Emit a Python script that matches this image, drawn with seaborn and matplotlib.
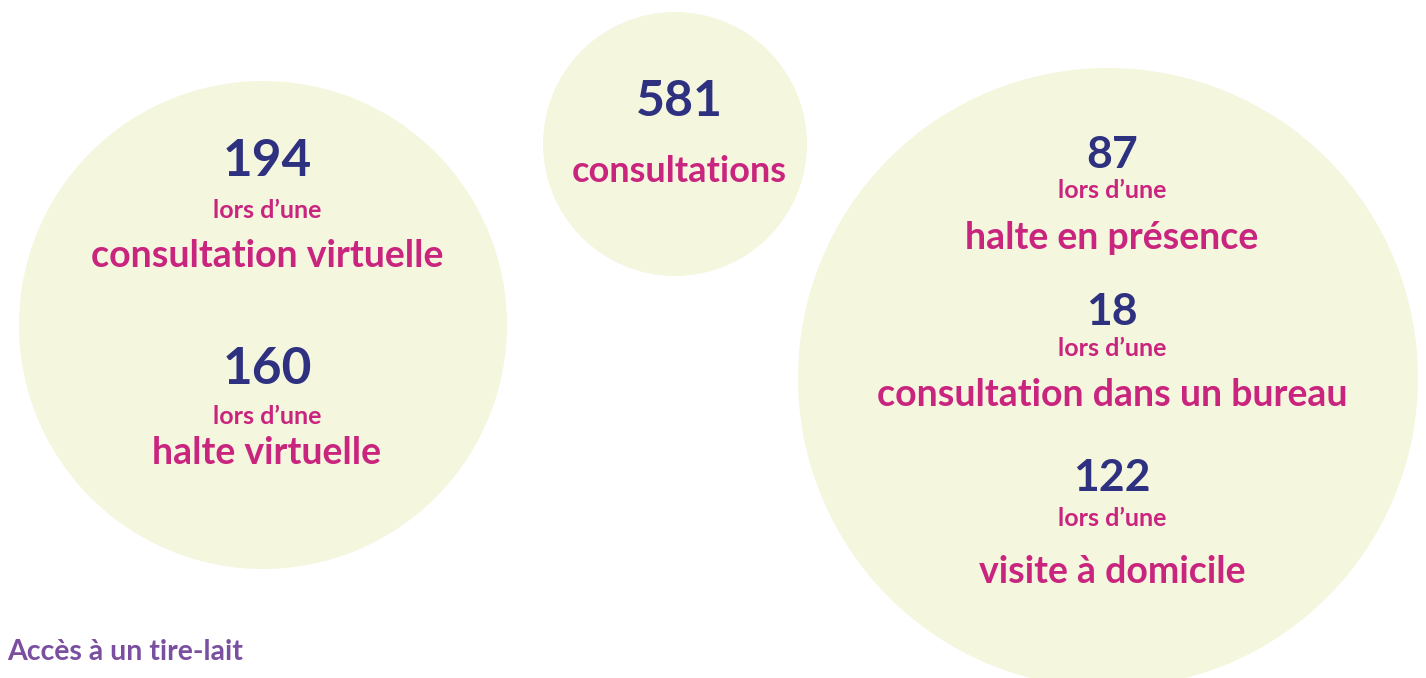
import seaborn as sns
import matplotlib.pyplot as plt
from matplotlib.patches import Circle

# Données
total = 581
total_label = "consultations"
modes = ["consultation virtuelle", "halte virtuelle",
         "halte en présence", "consultation dans un bureau", "visite à domicile"]
counts = [194, 160, 87, 18, 122]
groupe = [0, 0, 1, 1, 1]   # 0 = bulle gauche, 1 = bulle droite
sous_titre = "lors d’une"
titre_bas = "Accès à un tire-lait"

navy = "#2E3080"
magenta = "#C9247E"
purple = "#7B4FA0"
bulle = "#F4F6DE"

sns.set_theme(style="white")
plt.rcParams['font.family'] = ['Lato', 'DejaVu Sans']

fig = plt.figure(figsize=(14.26, 6.78), dpi=100)
ax = fig.add_axes([0, 0, 1, 1])
ax.set_xlim(0, 1426)
ax.set_ylim(678, 0)
ax.set_aspect('equal')
ax.axis('off')

# bulles (centre x, centre y, rayon)
for cx, cy, r in [(263, 325, 244), (675, 144, 132), (1108, 378, 310)]:
    ax.add_patch(Circle((cx, cy), r, color=bulle, lw=0, zorder=0))

# bulle du centre
ax.text(679, 102, str(total), color=navy, fontsize=36, fontweight='bold', ha='center', va='center')
ax.text(679, 172, total_label, color=magenta, fontsize=26, fontweight='bold', ha='center', va='center')

# positions verticales du texte : (nombre, "lors d'une", libellé)
ys = [(162, 210, 256), (370, 417, 453), (155, 190, 238), (312, 349, 395), (478, 518, 572)]
xs = [267, 1112]
tailles_nb = [37, 37, 32, 32, 32]
for n, lab, g, (y1, y2, y3), fs in zip(counts, modes, groupe, ys, tailles_nb):
    x = xs[g]
    ax.text(x, y1, str(n), color=navy, fontsize=fs, fontweight='bold', ha='center', va='center')
    ax.text(x, y2, sous_titre, color=magenta, fontsize=18, fontweight='bold', ha='center', va='center')
    ax.text(x, y3, lab, color=magenta, fontsize=27, fontweight='bold', ha='center', va='center')

ax.text(7, 652, titre_bas, color=purple, fontsize=20.5, fontweight='bold', ha='left', va='center')

fig.savefig('out.png', dpi=100)
